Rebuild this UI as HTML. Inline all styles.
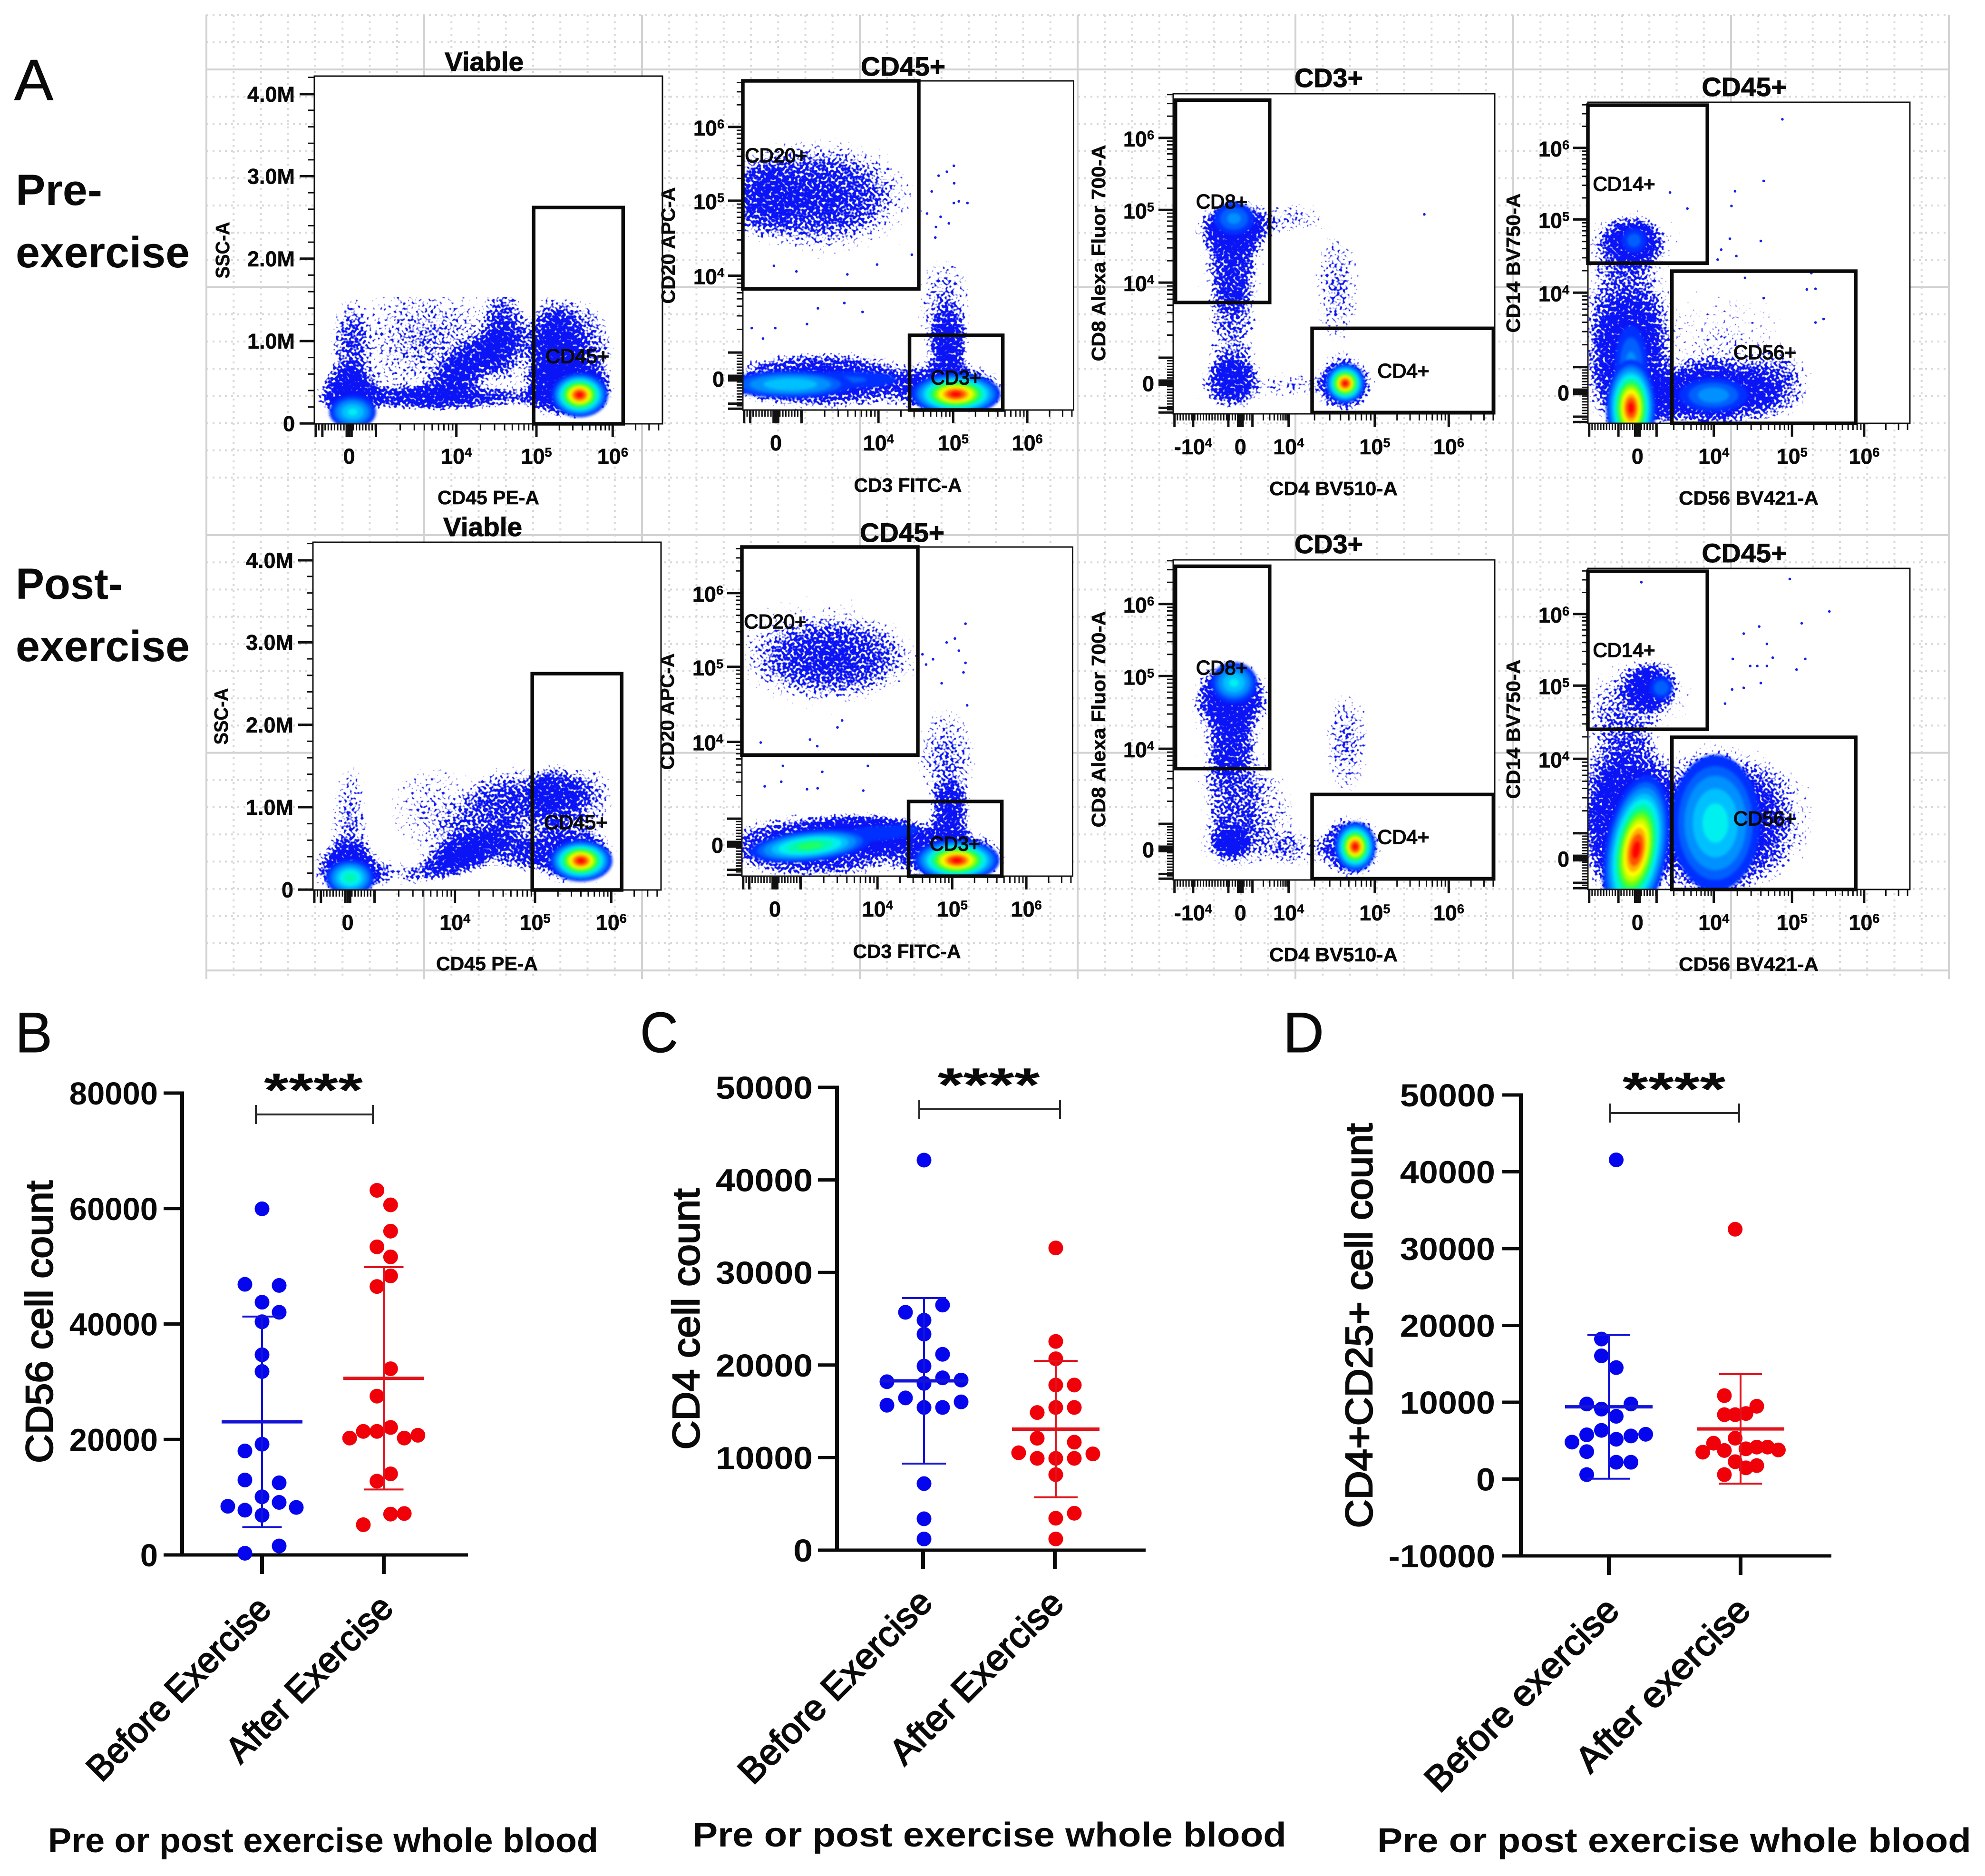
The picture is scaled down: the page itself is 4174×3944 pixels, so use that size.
<!DOCTYPE html>
<html lang="en">
<head>
<meta charset="utf-8">
<title>Flow cytometry gating and cell counts before and after exercise</title>
<style>
html,body{margin:0;padding:0;background:#fff}
svg{display:block}
text{font-family:"Liberation Sans",Arial,sans-serif;fill:#0a0a0a}
</style>
</head>
<body>
<svg id="figure" width="4174" height="3944" viewBox="0 0 4174 3944">
<defs>
<radialGradient id="cloud">
<stop offset="0" stop-color="#00f" stop-opacity="1"/>
<stop offset="0.55" stop-color="#00f" stop-opacity="0.72"/>
<stop offset="1" stop-color="#00f" stop-opacity="0"/>
</radialGradient>
<filter id="speckle" x="-10%" y="-10%" width="120%" height="120%" color-interpolation-filters="sRGB">
<feTurbulence type="fractalNoise" baseFrequency="0.17" numOctaves="1" seed="7" result="n"/>
<feColorMatrix in="n" type="matrix" values="0 0 0 0 0  0 0 0 0 0  0 0 0 0 0  1 0 0 0 0" result="na"/>
<feColorMatrix in="SourceGraphic" type="matrix" values="0 0 0 0 0  0 0 0 0 0  0 0 0 0 0  0 0 0 0.85 0" result="da"/>
<feComposite in="da" in2="na" operator="arithmetic" k1="0" k2="7" k3="7" k4="-7" result="t"/>
<feFlood flood-color="#0a14f5"/>
<feComposite in2="t" operator="in"/>
</filter>
<filter id="soften" x="-15%" y="-15%" width="130%" height="130%" color-interpolation-filters="sRGB">
<feGaussianBlur stdDeviation="3"/>
</filter>
</defs>
<rect width="4174" height="3944" fill="#fff"/>
<g id="grid"></g>
<g id="panels"></g>
<g id="charts"></g>
<text x="30" y="210" font-size="122" textLength="82" lengthAdjust="spacingAndGlyphs" stroke="#0a0a0a" stroke-width="1">A</text>
<text x="32" y="2212" font-size="120" textLength="78" lengthAdjust="spacingAndGlyphs" stroke="#0a0a0a" stroke-width="1">B</text>
<text x="1346" y="2212" font-size="120" textLength="80" lengthAdjust="spacingAndGlyphs" stroke="#0a0a0a" stroke-width="1">C</text>
<text x="2698" y="2212" font-size="120" textLength="86" lengthAdjust="spacingAndGlyphs" stroke="#0a0a0a" stroke-width="1">D</text>
<text x="33" y="431" font-size="92" font-weight="bold" textLength="182" lengthAdjust="spacingAndGlyphs">Pre-</text>
<text x="33" y="562" font-size="92" font-weight="bold" textLength="366" lengthAdjust="spacingAndGlyphs">exercise</text>
<text x="33" y="1259" font-size="92" font-weight="bold" textLength="225" lengthAdjust="spacingAndGlyphs">Post-</text>
<text x="33" y="1390" font-size="92" font-weight="bold" textLength="366" lengthAdjust="spacingAndGlyphs">exercise</text>
</svg>
<script>
/* ---------- Chart B values ---------- */
const bCategories = ["Before Exercise", "After Exercise"];
const bYTicks = [0, 20000, 40000, 60000, 80000];
const bBeforeValues = [59950,46875,46680,43776,42030,40390,34670,31770,19180,18010,12980,12490,10070,9100,8430,8230,7750,6880,1550,290];
const bBeforeSlots = [0,-1,1,0,1,0,0,0,0,-1,-1,1,0,1,-2,2,-1,0,1,-1];
const bAfterValues = [63150,60630,56080,53360,51620,48330,46490,32250,27500,22080,21400,21400,20730,20240,20240,14040,12780,7070,7170,5230];
const bAfterSlots = [-0.5,0.5,0.5,-0.5,0.5,0.5,-0.5,0.5,-0.5,0.5,-1.5,-0.5,2.5,-2.5,1.5,0.5,-0.5,0.5,1.5,-1.5];

/* ---------- Chart C values ---------- */
const cCategories = ["Before Exercise", "After Exercise"];
const cYTicks = [0, 10000, 20000, 30000, 40000, 50000];
const cBeforeValues = [42140,26480,25700,24850,23340,21160,19890,18620,18200,18380,18020,16450,16020,15660,15420,15420,7190,3390,1210];
const cBeforeSlots = [0,1,-1,0,0,1,0,1,-2,2,0,-1,2,-2,0,1,0,0,0];
const cAfterValues = [32650,22550,20680,17840,17840,15420,15420,14870,12090,11670,10520,10400,9920,9920,9920,8160,3990,3450,1210];
const cAfterSlots = [0,0,0,0,1,0,1,-1,-1,1,-2,2,-1,0,1,0,1,0,0];

/* ---------- Chart D values ---------- */
const dCategories = ["Before exercise", "After exercise"];
const dYTicks = [-10000, 0, 10000, 20000, 30000, 40000, 50000];
const dBeforeValues = [41550,18230,16040,14510,9770,9770,9110,8170,6340,5760,5830,5610,5180,4810,3570,2190,2190,580];
const dBeforeSlots = [0.5,-0.5,-0.5,0.5,-1.5,1.5,-0.5,0.5,-0.5,-1.5,2.5,1.5,0.5,-2.5,-1.5,0.5,1.5,-1.5];
const dAfterValues = [32520,10860,9480,8380,8380,8530,5320,4670,4160,4160,3940,3720,3790,3500,2260,1750,1460,580];
const dAfterSlots = [-0.5,-1.5,1.5,-1.5,-0.5,0.5,-0.5,-2.5,1.5,2.5,0.5,-1.5,3.5,-3.5,-0.5,1.5,0.5,-1.5];

/* ---------- Flow axes (display channels 0-100) ---------- */
const sscTicks = [0.1, 23.8, 47.5, 71.2, 94.8];
const sscTickLabels = ["0", "1.0M", "2.0M", "3.0M", "4.0M"];
const logTickLabels = ["0", "10^4", "10^5", "10^6"];
const cd4TickLabels = ["-10^4", "0", "10^4", "10^5", "10^6"];
const cd45XTicks = [10, 40.8, 63.8, 85.7];
const cd3XTicks = [10, 41, 63.6, 86];
const cd20YTicks = [9.7, 40.8, 63.6, 86];
const cd4XTicks = [6.2, 20.9, 35.9, 62.7, 85.7];
const cd8YTicks = [9.7, 41, 63.7, 86.2];
const cd56XTicks = [15.4, 39.1, 63.4, 85.8];
const cd14YTicks = [9.8, 40.7, 63.5, 85.8];

/* Flow populations: scatter clouds [x, y, spreadX, spreadY, density, tilt] */
const p1PreClouds = [[9.8,8.6,9,8,1,0],[10,21,5,15,.62,0],[37,7.5,30,3.5,.9,0],[45,17,15,6,.85,38],[55,26,6,15,.75,0],[32,24,26,19,.66,0],[68,21,8,16,1,0],[77,21,9,16,.8,0],[73,9.6,13,8,1,0]];
const p1PostClouds = [[10,6,10,8,1,0],[10.7,19,6,19,.68,0],[21.5,4.5,10,4,.6,0],[43,10,16,5,.95,25],[53,18,17,12,.68,30],[57,28,12,9,.6,0],[34,23,14,16,.58,0],[70,27,8,9.5,.95,0],[80,27,7,9,.7,0],[74,10.5,13,9,1,0],[60,10,7,5,.6,0]];
const p2PreClouds = [[24,9,32,9,1,0],[63,6,17,8.5,1,0],[62,18,6,12,.9,0],[61,32,9,16,.68,0],[21.7,65,24,14,.72,0],[6,65,10,11,.55,0],[25,65,37,23,.48,0]];
const p2PostClouds = [[22,9,30,10,1,0],[40,13,20,6,.95,0],[63,6,17,8.5,1,0],[63,18,6,11,.9,0],[62,36,10,17,.68,0],[27.5,66.5,22,11,.7,0],[22,68,35,21,.52,0]];
const p3PreClouds = [[19,58,10.5,8.5,1,0],[18.4,46,7,13,.75,0],[18,48,15,20,.48,0],[18.4,26,8,15,.66,0],[18.4,9.8,8,7,.85,0],[18.4,9.8,13,11,.52,0],[53,9.3,9.5,9,1,0],[51,39,8,20,.66,0],[37,9,8,5,.6,0],[37,61,11,6,.6,0]];
const p3PostClouds = [[18,57.5,11,10,1,0],[18,45,7,12,.75,0],[18,46,15,22,.5,0],[18,27,9,15,.66,0],[18,11.6,6,5,1,0],[18,11.6,13,11,.56,0],[31,20,9,16,.56,0],[55,10.4,10,10,1,0],[54,43,8,18,.66,0],[39,9,8,6,.58,0]];
const p4PreClouds = [[12,18,12,20,.9,0],[12,36,12,14,.55,0],[10,30,14,32,.5,0],[14,56.5,9,7,.95,0],[14,56,18,11,.52,0],[38,9.3,19,10,1,0],[58.6,11,11,10,.64,0],[41,22,28,24,.52,0],[22,7,8,8,.7,0]];
const p4PostClouds = [[13,19,14,25,1,0],[10,30,14,30,.7,0],[39,20,20,26,1,0],[58,22,14,19,.64,0],[19,63,8,7.5,.95,0],[16,60,21,14,.54,0]];

/* Density peaks: [x, y, sigmaX, sigmaY, peak level, tilt] */
const p1PrePeaks = [[11,3.4,4.2,3,.36,0],[76.2,8.3,3.8,3,1,0]];
const p1PostPeaks = [[10.7,3.5,4,3,.46,0],[77,8.4,4.2,2.8,1,0]];
const p2PrePeaks = [[32,9.2,15,2.7,.16,0],[14.4,7.8,12,2.7,.34,0],[64.4,4.8,6.3,3,1,0]];
const p2PostPeaks = [[41,13,14,2.5,.15,5],[20.6,9.2,10,2.6,.54,6],[65,4.8,6,3,1,0]];
const p3PrePeaks = [[18.9,61,5,4,.22,0],[53.5,9.5,2.9,2.9,1,0]];
const p3PostPeaks = [[18.9,61.6,4.5,4,.36,0],[56.6,10.4,3,3.6,1,0]];
const p4PrePeaks = [[13.4,18,4,10,.22,0],[39,8.8,8,4,.24,0],[14.3,57,3.5,3.5,.18,0],[13.4,4.8,3.6,7,1,0]];
const p4PostPeaks = [[22.8,62.8,3,3,.2,0],[39.6,20.7,8.5,13,.38,0],[15,12.3,4.5,11,1,80]];

/* Isolated events: [x channel, y channel] */
const p2PreRare = [[63.8,74.2],[63.9,68.9],[61.7,72.4],[59.2,71.2],[63.8,62.9],[65.3,63.4],[67.9,62.9],[57.1,66.4],[55.7,59.7],[59.8,58.7],[62.3,56.7],[58.4,55.6],[58.2,52.4],[51.1,47.2],[40.6,44.2],[31.6,41.2],[16.2,42.1],[9.4,43.8],[22.7,30.9],[30.7,32.5],[19.4,26.1],[36.2,29.8],[9.8,24.9],[2.7,24.9],[6.1,21.7]];
const p2PostRare = [[67.6,76.7],[64.4,72.2],[61.9,71],[65.6,68.5],[67.6,64.8],[67,61.9],[54.6,67.4],[57.8,65.9],[55.7,64.3],[60.4,58.6],[68.1,51.9],[30.3,47.3],[28.9,45.2],[20.6,41.5],[5.7,40.6],[22.8,39.5],[12.4,33.5],[38.1,33.5],[24.3,31.7],[11.9,28.7],[6.9,27.3],[22.9,26.7],[36.7,26],[19.7,26.4]];
const p3PreRare = [[78.1,62.3]];
const p3PostRare = [];
const p4PreRare = [[60.4,94.7],[54.6,75.5],[45.7,72.3],[44.6,67.7],[53.7,56.8],[44.1,57.5],[41.4,54.1],[46.1,52.1],[40.3,51],[25.5,71.9],[30.9,66.9],[73.2,32.5],[70.7,31.4],[68,41.7],[70.7,41.9],[54.6,39],[48.8,45.3],[69.4,46.8]];
const p4PostRare = [[16.6,95.7],[62.7,96.7],[75,86.6],[66.4,82.9],[53.2,81.9],[48.4,79.7],[55.6,76.5],[57.4,72.2],[67.5,71.8],[64.8,68.5],[50.4,69.6],[52.6,69.6],[55.6,69.6],[53.7,64.3],[45,71.8],[48.4,62.8],[44.8,62.3],[42.6,57.9]];
const p1PreRare = [];
const p1PostRare = [];

/* Jet colour ramp for density contours */
const jetLevels = [.1,.15,.2,.27,.34,.42,.5,.58,.66,.74,.82,.9,.97];
const jetColors = ["#0030ff","#0060ff","#0090ff","#00c0ff","#00f0f0","#00f8b0","#20ff60","#70ff10","#c0ff00","#ffff00","#ffb000","#ff5000","#ff0000"];

const root = document.getElementById('figure');
const svgNS = root.namespaceURI;

function el(tag, attrs, parent) {
  const e = document.createElementNS(svgNS, tag);
  for (const k in attrs) e.setAttribute(k, attrs[k]);
  parent.appendChild(e);
  return e;
}
function txt(parent, x, y, str, size, o) {
  o = o || {};
  const a = {x: x, y: y, 'font-size': size};
  if (o.bold !== false) a['font-weight'] = 'bold';
  if (o.anchor) a['text-anchor'] = o.anchor;
  if (o.len) { a.textLength = o.len; a.lengthAdjust = 'spacingAndGlyphs'; }
  if (o.transform) a.transform = o.transform;
  if (o.family) a['font-family'] = o.family;
  if (o.stroke) { a.stroke = '#0a0a0a'; a['stroke-width'] = o.stroke; }
  const t = el('text', a, parent);
  t.textContent = str;
  return t;
}

/* ---------- Layout grid ---------- */
(function drawGrid() {
  const g = document.getElementById('grid');
  let minor = '', major = '';
  for (let k = 0; k <= 64; k++) {
    const x = 434 + k * 57.25;
    const line = 'M' + x + ' 32V2058';
    if (k % 8 === 0) major += line; else minor += line;
  }
  [146, 1125].forEach(function (start) {
    for (let k = -2; k <= 18; k++) {
      const y = start + k * 57.2;
      if (start === 146 && y > 1060) continue;
      if (start === 1125 && (k < 0 || y > 2045)) continue;
      const line = 'M434 ' + y + 'H4096';
      if (k % 8 === 0) major += line; else minor += line;
    }
  });
  const a = el('path', {d: minor, stroke: '#d8d8d8', 'stroke-width': 4, 'stroke-dasharray': '4 9', fill: 'none'}, g);
  
  
  const b = el('path', {d: major, stroke: '#d2d2d2', 'stroke-width': 4, fill: 'none'}, g);
  
  
})();

/* ---------- Flow panels ---------- */
const flowColumns = [
  {key: 'viable', left: 661, top: 160, w: 732, h: 731, rowDx: -3, capY: 36.5,
   xTicks: cd45XTicks, xLabels: logTickLabels, yTicks: sscTicks, yLabels: sscTickLabels, linearY: true,
   xBase: 975, yRight: 620, yBaseOff: 16,
   title: ['Viable', 1018, 149, 166], xTitle: ['CD45 PE-A', 1027, 1060, 214], yTitle: ['SSC-A', 482, 526, 119],
   gates: [[63, 0, 88.7, 62.2]], gateLabels: [['CD45+', 1214, 763, 134]],
   clouds: [p1PreClouds, p1PostClouds], peaks: [p1PrePeaks, p1PostPeaks], rare: [p1PreRare, p1PostRare]},
  {key: 'cd45-cd3', left: 1562, top: 170, w: 695.5, h: 692, rowDx: -2, capY: 100,
   xTicks: cd3XTicks, xLabels: logTickLabels, yTicks: cd20YTicks, yLabels: logTickLabels,
   xBase: 947, yRight: 1523, yBaseOff: 18,
   title: ['CD45+', 1899, 159, 178], xTitle: ['CD3 FITC-A', 1909, 1034, 227], yTitle: ['CD20 APC-A', 1419, 516, 245],
   gates: [[0, 36.8, 53.2, 100], [50.4, 0, 78.6, 22.7]], gateLabels: [['CD20+', 1632, 341, 131], ['CD3+', 2010, 808, 106]],
   clouds: [p2PreClouds, p2PostClouds], peaks: [p2PrePeaks, p2PostPeaks], rare: [p2PreRare, p2PostRare]},
  {key: 'cd3-cd4', left: 2467, top: 197, w: 676, h: 673, rowDx: 0, capY: 100,
   xTicks: cd4XTicks, xLabels: cd4TickLabels, yTicks: cd8YTicks, yLabels: logTickLabels,
   xBase: 955, yRight: 2427, yBaseOff: 18,
   title: ['CD3+', 2794, 183, 144], xTitle: ['CD4 BV510-A', 2804, 1041, 270], yTitle: ['CD8 Alexa Fluor 700-A', 2324, 532, 455],
   gates: [[.7, 34.8, 30, 98], [43.2, .4, 99.6, 26.7]], gateLabels: [['CD8+', 2569, 438, 108], ['CD4+', 2951, 794, 109]],
   clouds: [p3PreClouds, p3PostClouds], peaks: [p3PrePeaks, p3PostPeaks], rare: [p3PreRare, p3PostRare]},
  {key: 'cd45-cd56', left: 3339, top: 215, w: 677, h: 675, rowDx: 0, capY: 100,
   xTicks: cd56XTicks, xLabels: logTickLabels, yTicks: cd14YTicks, yLabels: logTickLabels,
   xBase: 975, yRight: 3300, yBaseOff: 18,
   title: ['CD45+', 3668, 202, 179], xTitle: ['CD56 BV421-A', 3677, 1061, 294], yTitle: ['CD14 BV750-A', 3196, 553, 293],
   gates: [[0, 49.9, 37.1, 99.1], [26.1, 0, 83.2, 47.4]], gateLabels: [['CD14+', 3415, 401, 131], ['CD56+', 3711, 755, 132]],
   clouds: [p4PreClouds, p4PostClouds], peaks: [p4PrePeaks, p4PostPeaks], rare: [p4PreRare, p4PostRare]}
];

function logAxisMarks(ticks) {
  const t = ticks.slice(-4), z = t[0], d4 = t[1], d5 = t[2], d6 = t[3];
  const d3 = z + (d4 - z) * 0.25;
  const major = [0.4, z - (d3 - z), z - .7, z, z + .7, d3, d4, d5, d6];
  const minor = [];
  for (let c = 0.4; c < d3; c += 0.9) minor.push(c);
  [[d3, d4], [d4, d5], [d5, d6], [d6, 2 * d6 - d5]].forEach(function (seg) {
    for (let k = 2; k <= 9; k++) {
      const c = seg[0] + Math.log10(k) * (seg[1] - seg[0]);
      if (c < 100) minor.push(c);
    }
  });
  return {major: major, minor: minor};
}
function linearAxisMarks(ticks) {
  const step = (ticks[1] - ticks[0]) / 5, minor = [];
  for (let c = ticks[0]; c < 100; c += step) minor.push(c);
  return {major: ticks, minor: minor};
}

function expoLabel(parent, x, y, label, anchor) {
  const parts = label.split('^');
  const t = txt(parent, x, y, parts[0], 45, {anchor: anchor, stroke: .6});
  if (parts[1]) {
    const s = el('tspan', {dy: -15, 'font-size': 27}, t);
    s.textContent = parts[1];
  }
  return t;
}

function drawPanel(col, row) {
  const dx = row ? col.rowDx : 0, dy = row ? 980 : 0;
  const L = col.left + dx, T = col.top + dy, W = col.w, H = col.h;
  const X = function (c) { return L + c / 100 * W; };
  const Y = function (c) { return T + H - c / 100 * H; };
  const rowName = row ? 'post' : 'pre';
  const host = document.getElementById('panels');
  const g = el('g', {}, host);
  
  

  const bg = el('rect', {x: L, y: T, width: W, height: H, fill: '#fff'}, g);
  
  

  const clip = el('clipPath', {id: 'clip-' + col.key + '-' + row}, g);
  el('rect', {x: L, y: Y(col.capY), width: W, height: T + H - Y(col.capY)}, clip);

  const dataG = el('g', {'clip-path': 'url(#clip-' + col.key + '-' + row + ')'}, g);
  
  

  const cloudG = el('g', {filter: 'url(#speckle)'}, dataG);
  
  
  col.clouds[row].forEach(function (p) {
    const cx = X(p[0]), cy = Y(p[1]);
    const c = el('ellipse', {cx: cx, cy: cy, rx: p[2] / 100 * W * 1.3, ry: p[3] / 100 * H * 1.3,
      fill: 'url(#cloud)', 'fill-opacity': p[4], transform: 'rotate(' + (-p[5]) + ' ' + cx + ' ' + cy + ')'}, cloudG);
    
    
  });

  const peakG = el('g', {filter: 'url(#soften)'}, dataG);
  
  
  col.peaks[row].forEach(function (p) {
    const cx = X(p[0]), cy = Y(p[1]);
    jetLevels.forEach(function (lvl, i) {
      if (lvl >= p[4]) return;
      const r = Math.sqrt(2 * Math.log(p[4] / lvl));
      const c = el('ellipse', {cx: cx, cy: cy, rx: r * p[2] / 100 * W, ry: r * p[3] / 100 * H, fill: jetColors[i],
        transform: 'rotate(' + (p[5] > 45 ? 90 - p[5] : -p[5]) + ' ' + cx + ' ' + cy + ')'}, peakG);
      
      
    });
  });

  col.rare[row].forEach(function (p) {
    const d = el('circle', {cx: X(p[0]), cy: Y(p[1]), r: 2.8, fill: '#1420e8'}, dataG);
    
    
  });

  /* axis ticks */
  const xm = logAxisMarks(col.xTicks);
  const ym = col.linearY ? linearAxisMarks(col.yTicks) : logAxisMarks(col.yTicks);
  const B = T + H;
  let minorD = '', majorD = '';
  xm.minor.forEach(function (c) { minorD += 'M' + X(c) + ' ' + B + 'v14'; });
  ym.minor.forEach(function (c) { minorD += 'M' + L + ' ' + Y(c) + 'h-13'; });
  xm.major.forEach(function (c) { majorD += 'M' + X(c) + ' ' + B + 'v28'; });
  ym.major.forEach(function (c) { majorD += 'M' + L + ' ' + Y(c) + 'h-31'; });
  if (col.xTicks.length > 4) majorD += 'M' + X(col.xTicks[0]) + ' ' + B + 'v28';
  const mn = el('path', {d: minorD, stroke: '#111', 'stroke-width': 3, fill: 'none'}, g);
  
  
  const mj = el('path', {d: majorD, stroke: '#111', 'stroke-width': 5, fill: 'none'}, g);
  
  

  const frame = el('rect', {x: L, y: T, width: W, height: H, fill: 'none', stroke: '#111', 'stroke-width': 3}, g);
  
  

  col.gates.forEach(function (q) {
    const r = el('rect', {x: X(q[0]), y: Y(q[3]), width: X(q[2]) - X(q[0]), height: Y(q[1]) - Y(q[3]),
      fill: 'none', stroke: '#0a0a0a', 'stroke-width': 7.5}, g);
    
    
  });

  col.xTicks.forEach(function (c, i) {
    const t = expoLabel(g, X(c), col.xBase + dy, col.xLabels[i], 'middle');
    
    
  });
  col.yTicks.forEach(function (c, i) {
    const t = expoLabel(g, col.yRight + dx, Y(c) + col.yBaseOff, col.yLabels[i], 'end');
    
    
  });

  const tt = txt(g, col.title[1] + dx, col.title[2] + dy - (row && col.key === 'viable' ? 2 : 0), col.title[0], 56, {anchor: 'middle', len: col.title[3], stroke: 1});
  
  
  const xt = txt(g, col.xTitle[1] + dx, col.xTitle[2] + dy, col.xTitle[0], 41, {anchor: 'middle', len: col.xTitle[3], stroke: .6});
  
  
  const yx = col.yTitle[1] + dx, yy = col.yTitle[2] + dy;
  const yt = txt(g, yx, yy, col.yTitle[0], 41, {anchor: 'middle', len: col.yTitle[3], stroke: .6, transform: 'rotate(-90 ' + yx + ' ' + yy + ')'});
  
  

  col.gateLabels.forEach(function (q) {
    const t = txt(g, q[1] + dx, q[2] + dy, q[0], 42, {anchor: 'middle', len: q[3], bold: false, stroke: 1.8});
    
    
  });
}
flowColumns.forEach(function (col) { drawPanel(col, 0); drawPanel(col, 1); });

/* ---------- Scatter charts ---------- */
function stats(v) {
  const m = v.reduce(function (a, b) { return a + b; }, 0) / v.length;
  const s = Math.sqrt(v.reduce(function (a, b) { return a + (b - m) * (b - m); }, 0) / (v.length - 1));
  return {mean: m, sd: s};
}

function drawChart(c) {
  const host = document.getElementById('charts');
  const g = el('g', {}, host);
  
  
  const yMin = c.yTicks[0], yMax = c.yTicks[c.yTicks.length - 1];
  const y = function (v) { return c.yBottom - (v - yMin) / (yMax - yMin) * (c.yBottom - c.yTop); };

  const yAxis = el('line', {x1: c.axisX, x2: c.axisX, y1: c.yTop - 3.5, y2: c.yBottom + 3.5, stroke: '#0a0a0a', 'stroke-width': 8}, g);
  
  
  const xAxis = el('line', {x1: c.tickLeft, x2: c.axisEnd, y1: c.yBottom, y2: c.yBottom, stroke: '#0a0a0a', 'stroke-width': 7}, g);
  
  

  c.yTicks.forEach(function (v) {
    const t = el('line', {x1: c.tickLeft, x2: c.axisX, y1: y(v), y2: y(v), stroke: '#0a0a0a', 'stroke-width': 7}, g);
    
    
    const lx = c.labelRight, ly = y(v) + 24;
    const l = txt(g, 0, 0, String(v), 67, {anchor: 'end', transform: 'translate(' + lx + ' ' + ly + ') scale(' + c.labelStretch + ' 1)'});
    
    
  });

  c.series.forEach(function (s, si) {
    const x0 = s.center;
    const tk = el('line', {x1: s.tick, x2: s.tick, y1: c.yBottom, y2: c.yBottom + 40, stroke: '#0a0a0a', 'stroke-width': 8}, g);
    
    

    const lb = txt(g, 0, 0, c.categories[si], 76, {anchor: 'end', bold: false, stroke: 2.4, len: s.labelLen,
      transform: 'translate(' + s.labelX + ' ' + s.labelY + ') rotate(-45)'});
    
    

    const st = stats(s.values);
    const up = y(st.mean + st.sd), lo = y(st.mean - st.sd), mid = y(st.mean);

    s.values.forEach(function (v, i) {
      const d = el('circle', {cx: x0 + s.slots[i] * s.slotWidth, cy: y(v), r: 15.5, fill: s.color}, g);
      
      
    });

    const err = el('path', {d: 'M' + x0 + ' ' + up + 'V' + lo + 'M' + (x0 - c.capHalf) + ' ' + up + 'H' + (x0 + c.capHalf) + 'M' + (x0 - c.capHalf) + ' ' + lo + 'H' + (x0 + c.capHalf),
      stroke: s.errColor, 'stroke-width': 4, fill: 'none'}, g);
    
    
    const ml = el('line', {x1: x0 - c.meanHalf, x2: x0 + c.meanHalf, y1: mid, y2: mid, stroke: s.errColor, 'stroke-width': 7}, g);
    
    
  });

  const br = el('path', {d: 'M' + c.bracket[0] + ' ' + (c.bracket[2] - 20) + 'v40M' + c.bracket[1] + ' ' + (c.bracket[2] - 20) + 'v40M' + c.bracket[0] + ' ' + c.bracket[2] + 'H' + c.bracket[1],
    stroke: '#2a2a2a', 'stroke-width': 4, fill: 'none'}, g);
  
  
  const sig = txt(g, c.starsX, c.starsY, '****', 100, {anchor: 'middle', family: '"DejaVu Sans",sans-serif', len: c.starsLen});
  
  

  const tx = c.yTitle[1], ty = c.yTitle[2];
  const yt = txt(g, tx, ty, c.yTitle[0], 80, {anchor: 'middle', bold: false, stroke: 2.6, len: c.yTitle[3], transform: 'rotate(-90 ' + tx + ' ' + ty + ')'});
  
  
  const xt = txt(g, c.xTitle[0], c.xTitle[1], 'Pre or post exercise whole blood', 72, {len: c.xTitle[2]});
  
  
}

const BLUE = '#0606ee', BLUE_LINE = '#1414d8', RED = '#f00008', RED_LINE = '#e0141c';

drawChart({name: 'cd56-count-chart', categories: bCategories, yTicks: bYTicks,
  yTop: 2298, yBottom: 3269, axisX: 383, tickLeft: 344, axisEnd: 984, labelRight: 332, labelStretch: 1,
  capHalf: 41.5, meanHalf: 85, bracket: [538, 784, 2343], starsX: 659, starsY: 2326, starsLen: 208,
  yTitle: ['CD56 cell count', 110, 2779, 594], xTitle: [101, 3894, 1157],
  series: [
    {values: bBeforeValues, slots: bBeforeSlots, slotWidth: 36, center: 551, tick: 551, color: BLUE, errColor: BLUE_LINE, labelX: 574, labelY: 3388, labelLen: 510},
    {values: bAfterValues, slots: bAfterSlots, slotWidth: 28.7, center: 807, tick: 807, color: RED, errColor: RED_LINE, labelX: 831, labelY: 3385, labelLen: 460}
  ]});

drawChart({name: 'cd4-count-chart', categories: cCategories, yTicks: cYTicks,
  yTop: 2286, yBottom: 3259, axisX: 1760, tickLeft: 1720, axisEnd: 2409, labelRight: 1709, labelStretch: 1.095,
  capHalf: 46, meanHalf: 92, bracket: [1933, 2229, 2332], starsX: 2079, starsY: 2315, starsLen: 215,
  yTitle: ['CD4 cell count', 1470, 2773, 549], xTitle: [1456, 3882, 1249],
  series: [
    {values: cBeforeValues, slots: cBeforeSlots, slotWidth: 39, center: 1943, tick: 1941, color: BLUE, errColor: BLUE_LINE, labelX: 1965, labelY: 3373, labelLen: 540},
    {values: cAfterValues, slots: cAfterSlots, slotWidth: 39, center: 2220, tick: 2218, color: RED, errColor: RED_LINE, labelX: 2241, labelY: 3375, labelLen: 480}
  ]});

drawChart({name: 'cd4-cd25-count-chart', categories: dCategories, yTicks: dYTicks,
  yTop: 2302, yBottom: 3271, axisX: 3198, tickLeft: 3159, axisEnd: 3851, labelRight: 3144, labelStretch: 1.075,
  capHalf: 45, meanHalf: 92, bracket: [3385, 3657, 2340], starsX: 3520, starsY: 2324, starsLen: 217,
  yTitle: ['CD4+CD25+ cell count', 2885, 2787, 851], xTitle: [2896, 3894, 1249],
  series: [
    {values: dBeforeValues, slots: dBeforeSlots, slotWidth: 31, center: 3383, tick: 3383, color: BLUE, errColor: BLUE_LINE, labelX: 3409, labelY: 3390, labelLen: 540},
    {values: dAfterValues, slots: dAfterSlots, slotWidth: 22.7, center: 3660, tick: 3660, color: RED, errColor: RED_LINE, labelX: 3685, labelY: 3390, labelLen: 482}
  ]});
</script>
</body>
</html>
